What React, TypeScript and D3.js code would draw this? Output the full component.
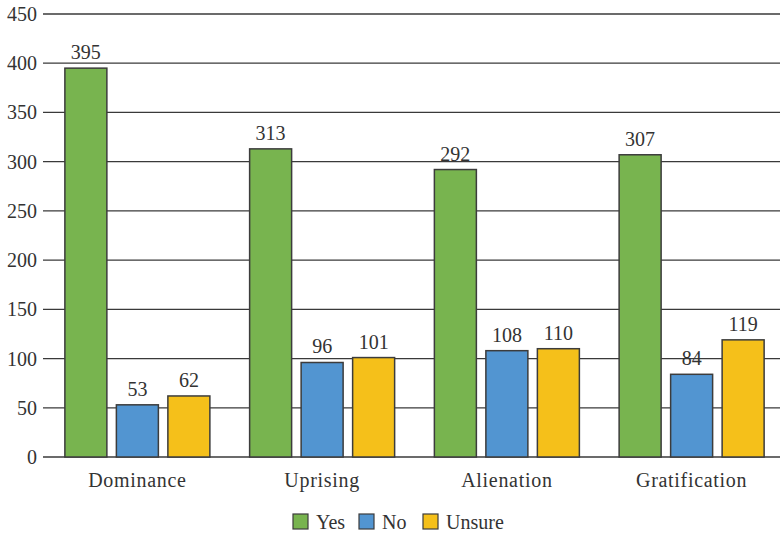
import React from "react";
import * as d3 from "d3";

const categories = ["Dominance", "Uprising", "Alienation", "Gratification"];
const seriesNames = ["Yes", "No", "Unsure"];
const yesValues = [395, 313, 292, 307];
const noValues = [53, 96, 108, 84];
const unsureValues = [62, 101, 110, 119];
const yTicks = [0, 50, 100, 150, 200, 250, 300, 350, 400, 450];
const seriesColors = ["#78b44f", "#5295d1", "#f5c01a"];

const W = 780;
const H = 534;
const FONT = "'Liberation Serif', 'Times New Roman', serif";

export default function App() {
  const values = [yesValues, noValues, unsureValues];
  const y = d3.scaleLinear().domain([0, 450]).range([457, 14]);
  const x0 = d3.scaleBand<string>().domain(categories).range([45, 784]);
  const groupW = 145;
  const x1 = d3
    .scaleBand<string>()
    .domain(seriesNames)
    .range([0, groupW])
    .paddingInner(0.1845)
    .paddingOuter(0);

  const legendX = [293, 359, 423];

  return (
    <svg
      width={W}
      height={H}
      style={{ position: "absolute", left: 0, top: 0, background: "#fff" }}
      fontFamily={FONT}
    >
      {yTicks.map((t) => (
        <g key={t}>
          <line x1={43} x2={780} y1={y(t)} y2={y(t)} stroke="#3a3a3a" strokeWidth={1.3} />
          <text x={37} y={y(t) + 7} textAnchor="end" fontSize={20} fill="#333">
            {t}
          </text>
        </g>
      ))}
      {categories.map((c, ci) => {
        const gx = (x0(c) as number) + x0.bandwidth() / 2 - groupW / 2;
        return (
          <g key={c}>
            {seriesNames.map((s, si) => {
              const v = values[si][ci];
              const bx = gx + (x1(s) as number);
              return (
                <g key={s}>
                  <rect
                    x={bx}
                    y={y(v)}
                    width={x1.bandwidth()}
                    height={y(0) - y(v)}
                    fill={seriesColors[si]}
                    stroke="#3c3c3c"
                    strokeWidth={1.5}
                  />
                  <text
                    x={bx + x1.bandwidth() / 2}
                    y={y(v) - 9}
                    textAnchor="middle"
                    fontSize={20}
                    fill="#333"
                  >
                    {v}
                  </text>
                </g>
              );
            })}
            <text
              x={(x0(c) as number) + x0.bandwidth() / 2}
              y={487}
              textAnchor="middle"
              fontSize={20}
              letterSpacing={0.7}
              fill="#333"
            >
              {c}
            </text>
          </g>
        );
      })}
      {seriesNames.map((s, si) => (
        <g key={s}>
          <rect
            x={legendX[si]}
            y={514}
            width={15}
            height={15}
            fill={seriesColors[si]}
            stroke="#3c3c3c"
            strokeWidth={1.2}
          />
          <text x={legendX[si] + 23} y={529} fontSize={20} fill="#333">
            {s}
          </text>
        </g>
      ))}
    </svg>
  );
}
